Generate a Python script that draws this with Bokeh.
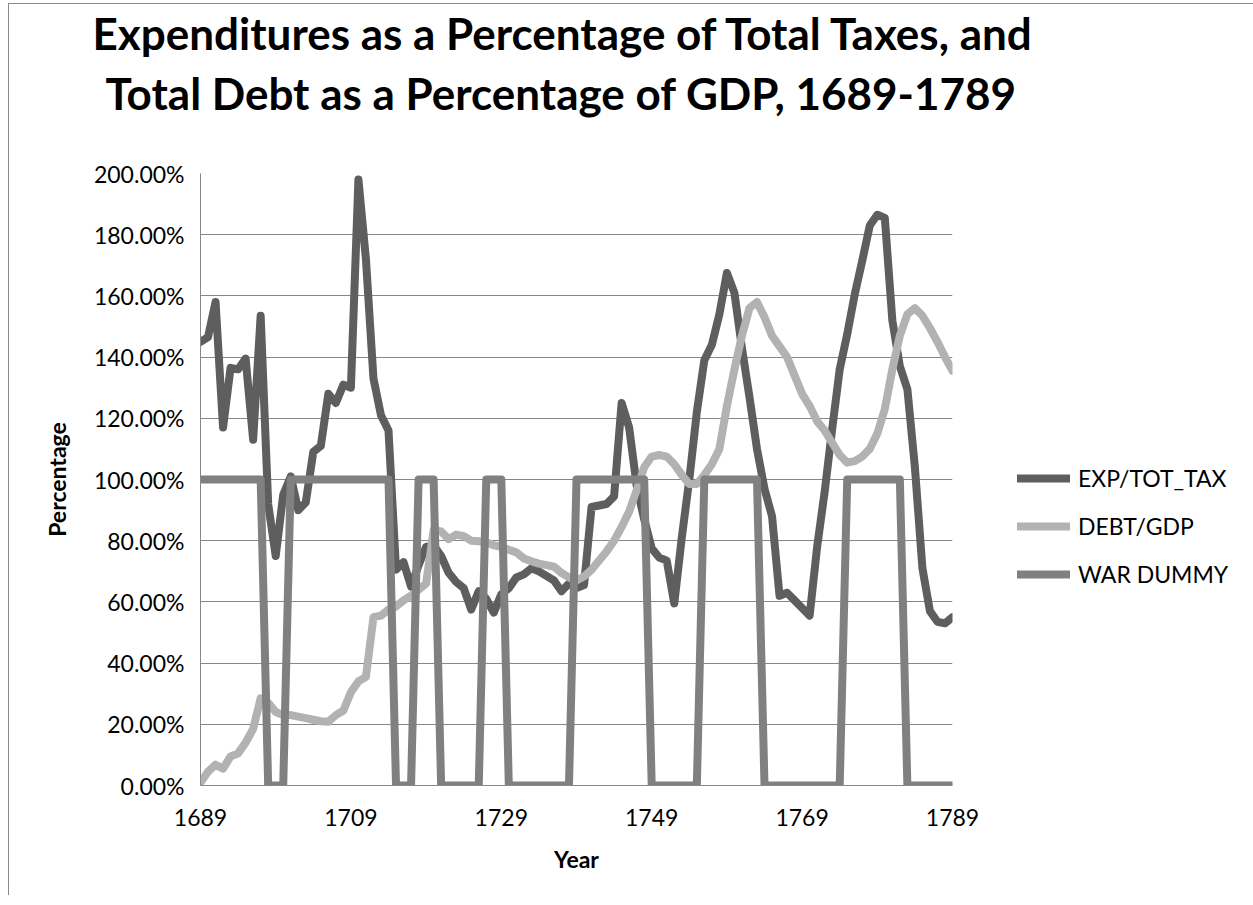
from bokeh.plotting import figure
from bokeh.models import (ColumnDataSource, FixedTicker, NumeralTickFormatter,
                          Legend, LegendItem, Title, Range1d)
from bokeh.embed import file_html
from bokeh.resources import INLINE

# ---------------- data ----------------
years = list(range(1689, 1790))

exp_tot_tax = [
    1.45, 1.465, 1.58, 1.17, 1.365, 1.36, 1.395, 1.13, 1.535, 0.92,
    0.75, 0.95, 1.01, 0.90, 0.925, 1.09, 1.11, 1.28, 1.25, 1.31,
    1.30, 1.98, 1.72, 1.33, 1.21, 1.16, 0.705, 0.73, 0.65, 0.72,
    0.78, 0.785, 0.75, 0.695, 0.665, 0.645, 0.575, 0.635, 0.61, 0.565,
    0.625, 0.645, 0.68, 0.69, 0.71, 0.70, 0.685, 0.67, 0.635, 0.66,
    0.645, 0.655, 0.91, 0.915, 0.92, 0.945, 1.25, 1.17, 0.98, 0.87,
    0.775, 0.745, 0.735, 0.595, 0.81, 1.00, 1.22, 1.39, 1.44, 1.54,
    1.675, 1.61, 1.43, 1.27, 1.10, 0.97, 0.88, 0.62, 0.63, 0.605,
    0.58, 0.555, 0.78, 0.96, 1.165, 1.36, 1.475, 1.605, 1.715, 1.83,
    1.865, 1.855, 1.52, 1.37, 1.295, 1.04, 0.71, 0.57, 0.535, 0.53,
    0.55,
]

debt_gdp = [
    0.01, 0.045, 0.068, 0.055, 0.095, 0.105, 0.14, 0.185, 0.285, 0.27,
    0.24, 0.23, 0.23, 0.225, 0.22, 0.215, 0.21, 0.208, 0.23, 0.245,
    0.305, 0.34, 0.355, 0.55, 0.555, 0.575, 0.585, 0.605, 0.62, 0.64,
    0.66, 0.835, 0.83, 0.805, 0.82, 0.815, 0.80, 0.798, 0.795, 0.785,
    0.78, 0.77, 0.762, 0.742, 0.733, 0.725, 0.72, 0.715, 0.695, 0.68,
    0.67, 0.683, 0.705, 0.735, 0.765, 0.80, 0.845, 0.895, 0.965, 1.04,
    1.075, 1.08, 1.075, 1.05, 1.015, 0.985, 0.985, 1.015, 1.05, 1.10,
    1.24, 1.36, 1.47, 1.56, 1.58, 1.53, 1.47, 1.435, 1.40, 1.34,
    1.28, 1.24, 1.19, 1.16, 1.12, 1.08, 1.055, 1.06, 1.075, 1.10,
    1.15, 1.23, 1.36, 1.47, 1.54, 1.56, 1.535, 1.495, 1.45, 1.40,
    1.355,
]

war_dummy = [
    1, 1, 1, 1, 1, 1, 1, 1, 1, 0,
    0, 0, 1, 1, 1, 1, 1, 1, 1, 1,
    1, 1, 1, 1, 1, 1, 0, 0, 0, 1,
    1, 1, 0, 0, 0, 0, 0, 0, 1, 1,
    1, 0, 0, 0, 0, 0, 0, 0, 0, 0,
    1, 1, 1, 1, 1, 1, 1, 1, 1, 1,
    0, 0, 0, 0, 0, 0, 0, 1, 1, 1,
    1, 1, 1, 1, 1, 0, 0, 0, 0, 0,
    0, 0, 0, 0, 0, 0, 1, 1, 1, 1,
    1, 1, 1, 1, 0, 0, 0, 0, 0, 0,
    0,
]

series_names = ["EXP/TOT_TAX", "DEBT/GDP", "WAR DUMMY"]
x_tick_years = [1689, 1709, 1729, 1749, 1769, 1789]
y_ticks = [0, 0.2, 0.4, 0.6, 0.8, 1.0, 1.2, 1.4, 1.6, 1.8, 2.0]
title_lines = ["Expenditures as a Percentage of Total Taxes, and",
               "Total Debt as a Percentage of GDP, 1689-1789"]

# ---------------- figure ----------------
FONT = "Lato"
GRID = "#878787"

p = figure(frame_width=752, frame_height=612,
           min_border_left=191, min_border_right=290,
           min_border_top=169, min_border_bottom=110,
           x_range=Range1d(1689, 1789), y_range=Range1d(0, 2.0),
           output_backend="svg", toolbar_location=None,
           background_fill_color="white", border_fill_color="white")
p.styles = {"margin-left": "8px", "margin-top": "3px",
            "border-left": "1px solid #8a8a8a", "border-top": "1px solid #8a8a8a"}
p.outline_line_color = None

src = ColumnDataSource(dict(year=years, exp=exp_tot_tax, debt=debt_gdp, war=war_dummy))

r_exp = p.line("year", "exp", source=src, line_color="#5e5e5e", line_width=8,
               line_join="round", line_cap="round")
r_debt = p.line("year", "debt", source=src, line_color="#b2b2b2", line_width=8,
                line_join="round", line_cap="round")
r_war = p.line("year", "war", source=src, line_color="#808080", line_width=8,
               line_join="round", line_cap="round")

# axes
p.xaxis.ticker = FixedTicker(ticks=x_tick_years)
p.yaxis.ticker = FixedTicker(ticks=y_ticks)
p.yaxis.formatter = NumeralTickFormatter(format="0.00%")
for ax in (p.xaxis[0], p.yaxis[0]):
    ax.axis_line_color = GRID
    ax.axis_line_width = 1
    ax.major_tick_line_color = None
    ax.minor_tick_line_color = None
    ax.major_tick_out = 0
    ax.major_tick_in = 0
    ax.major_label_text_font = FONT
    ax.major_label_text_font_size = "23px"
    ax.major_label_text_color = "black"
    ax.axis_label_text_font = FONT
    ax.axis_label_text_font_style = "bold"
    ax.axis_label_text_font_size = "23px"
    ax.axis_label_text_color = "black"

p.xaxis.axis_label = "Year"
p.yaxis.axis_label = "Percentage"
p.yaxis.major_label_standoff = 16
p.xaxis.major_label_standoff = 23
p.xaxis.axis_label_standoff = 16
p.yaxis.axis_label_standoff = 20

p.xgrid.grid_line_color = None
p.ygrid.grid_line_color = GRID
p.ygrid.grid_line_width = 1

# legend (right side panel)
legend = Legend(items=[LegendItem(label=series_names[0], renderers=[r_exp]),
                       LegendItem(label=series_names[1], renderers=[r_debt]),
                       LegendItem(label=series_names[2], renderers=[r_war])],
                location=(65, 197))
legend.border_line_color = None
legend.background_fill_alpha = 0
legend.padding = 0
legend.margin = 0
legend.spacing = 20
legend.glyph_width = 53
legend.glyph_height = 28
legend.label_height = 28
legend.label_standoff = 8
legend.label_text_font = FONT
legend.label_text_font_size = "23px"
legend.label_text_color = "black"
p.add_layout(legend, "right")

# title: empty spacer next to the frame, then the two lines (outermost added last)
p.add_layout(Title(text=" ", text_font_size="1px", standoff=46), "above")
p.add_layout(Title(text=title_lines[1], align="left", offset=-95, standoff=12,
                   text_font=FONT, text_font_style="bold",
                   text_font_size="44px", text_color="black"), "above")
p.add_layout(Title(text=title_lines[0], align="left", offset=-108, standoff=0,
                   text_font=FONT, text_font_style="bold",
                   text_font_size="44px", text_color="black"), "above")

open("out.html", "w").write(file_html(p, INLINE))
